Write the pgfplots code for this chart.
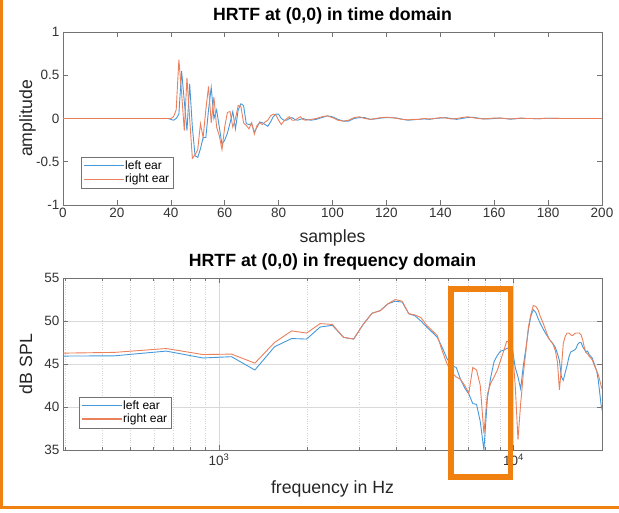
\documentclass[border=0pt]{standalone}
\usepackage{pgfplots}
\pgfplotsset{compat=1.18}
\usepackage{pgfplotstable}
\usepackage{fontspec}
\setmainfont{Liberation Sans}
\definecolor{mblue}{rgb}{0.27,0.60,0.86}
\definecolor{morange}{rgb}{0.92,0.50,0.36}
\definecolor{frameor}{rgb}{0.94,0.50,0.06}
\definecolor{axgray}{rgb}{0.45,0.45,0.45}

\pgfplotstableread{
f L R
220.5 45.9 46.2
441 45.95 46.35
661.5 46.5 46.8
882 45.7 46.1
1102.5 45.85 46.15
1323 44.3 45.1
1543.5 47.0 47.5
1764 47.96 48.85
1984.5 47.9 48.6
2205 49.3 49.7
2425.5 49.5 49.6
2646 48.1 48.1
2866.5 47.9 47.9
3087 49.6 49.6
3307.5 50.9 50.9
3528 51.2 51.2
3748.5 52.0 52.0
3969 52.3 52.5
4189.5 52.2 52.3
4410 50.85 50.85
4630.5 50.6 50.7
4851 50.0 50.4
5071.5 49.3 49.5
5292 48.7 48.9
5512.5 48.1 48.3
5733 46.9 46.5
5953.5 45.6 45.0
6174 44.8 44.0
6394.5 44.6 43.5
6615 43.2 43.2
6835.5 42.2 42.5
7056 41.5 41.6
7276.5 40.4 44.6
7497 40.3 44.3
7717.5 38.3 42.5
7938 35.0 36.9
8158.5 41.0 41.5
8379 43.5 42.8
8599.5 45.3 43.5
8820 46.0 44.3
9040.5 46.5 45.4
9261 46.6 46.5
9481.5 46.8 47.6
9702 46.9 47.7
9922.5 46.7 46.8
10143 44.6 42.5
10363.5 43.5 36.2
10584 42.1 40.4
10804.5 44.8 43.8
11025 46.8 46.5
11245.5 49.0 49.3
11466 50.6 50.8
11686.5 51.3 51.8
11907 51.0 51.7
12127.5 50.3 51.3
12348 49.7 50.5
12568.5 49.2 49.9
12789 48.7 49.2
13009.5 48.3 48.5
13230 47.9 47.9
13450.5 47.6 47.6
13671 47.3 47.2
13891.5 46.9 46.5
14112 46.2 45.2
14332.5 45.4 42.0
14553 43.5 44.5
14773.5 43.1 47.4
14994 44.0 48.2
15214.5 44.8 48.6
15435 45.8 48.6
15655.5 46.4 48.4
15876 46.5 48.3
16096.5 46.6 48.5
16317 46.8 48.6
16537.5 47.3 48.6
16758 47.5 48.6
16978.5 47.5 48.4
17199 47.0 47.8
17419.5 46.7 46.9
17640 46.4 46.3
17860.5 46.5 46.2
18081 46.1 45.9
18301.5 45.9 45.7
18522 45.7 45.5
18742.5 45.2 45.0
18963 44.7 44.6
19183.5 44.2 44.2
19404 43.2 43.8
19624.5 41.8 43.2
19845 40.3 42.5
20065.5 39.5 42.0
}\freqtab

\pgfplotstableread{
n L R
0 0 0
39 0 0
40 -0.01 0
41 -0.02 0.02
42 0.0 0.1
43 0.05 0.68
44 0.55 0.3
45 0.2 -0.14
46 -0.14 0.47
47 0.4 0.0
48 -0.1 -0.46
49 -0.43 -0.42
50 -0.45 -0.36
51 -0.35 -0.06
52 -0.22 -0.22
53 -0.22 0.1
54 0.1 0.37
55 0.36 -0.05
56 0.0 0.25
57 0.1 -0.1
58 -0.1 -0.2
59 -0.3 -0.36
60 -0.25 -0.1
61 -0.17 0.07
62 -0.05 0.08
63 0.08 -0.1
64 -0.12 0.0
65 0.1 0.15
66 0.17 0.14
67 0.15 -0.05
68 -0.06 -0.08
69 -0.07 -0.12
70 -0.06 -0.05
71 -0.16 -0.18
72 -0.1 -0.08
73 -0.04 -0.05
74 -0.05 -0.07
75 -0.07 -0.04
76 -0.09 -0.02
77 -0.04 0.03
78 0.02 0.05
79 0.05 0.04
80 0.05 -0.02
81 0.0 -0.07
82 -0.02 -0.03
83 -0.02 0.0
84 0.0 0.02
85 0.01 -0.02
86 -0.01 -0.02
87 -0.02 0.0
88 -0.01 0.02
89 0.0 -0.01
90 -0.01 -0.02
92 -0.02 -0.01
94 -0.01 0.0
96 0.01 0.02
98 0.03 0.03
100 0.02 0.01
102 -0.01 -0.02
104 -0.03 -0.03
106 -0.03 -0.02
108 0.0 0.01
110 0.01 0.02
112 0.01 0.0
114 -0.01 -0.01
116 -0.005 0.0
118 0.005 0.01
120 0.01 0.015
122 0.01 0.01
124 0.005 0.0
126 -0.01 -0.01
128 -0.02 -0.015
130 -0.015 -0.01
132 -0.01 -0.01
134 -0.005 0.0
136 -0.01 -0.005
138 0.0 0.0
140 0.005 0.01
142 0.01 0.005
144 0.0 -0.005
146 -0.01 0.0
148 0.0 0.01
150 0.01 0.02
152 0.015 0.01
154 0.005 0.0
156 -0.005 -0.005
158 -0.005 0.0
160 0.0 0.005
162 0.005 0.005
164 0.0 0.0
166 -0.008 -0.005
168 -0.003 0.0
170 0.003 0.005
172 0.0 0.0
174 0.0 0.0
176 -0.003 -0.003
178 0.0 0.0
180 0.003 0.003
185 0.0 0.0
190 0.0 0.0
195 0.0 0.0
200 0.0 0.0
}\timetab

\pgfplotsset{
  mstyle/.style={
    scale only axis,
    width=539bp,
    axis line style={axgray, line width=0.6bp},
    tick style={axgray, line width=0.6bp},
    tick align=inside,
    major tick length=5bp,
    minor tick length=3bp,
    /pgf/number format/assume math mode=true,
    tick label style={font=\fontsize{13.5bp}{15bp}\selectfont, text=black!80},
    label style={font=\fontsize{17.7bp}{20bp}\selectfont, text=black!85},
    title style={font=\bfseries\fontsize{17.7bp}{20bp}\selectfont, at={(axis description cs:0.5,1)}, anchor=base, yshift=6bp},
    xlabel style={at={(axis description cs:0.5,0)}, anchor=base},
    ylabel style={at={(axis description cs:-0.0575,0.5)}, anchor=base, rotate=0},
    legend cell align=left,
    legend style={draw=axgray, font=\fontsize{12bp}{13bp}\selectfont,
      inner xsep=2.5bp, inner ysep=2bp, row sep=0bp,
      nodes={inner xsep=1.5bp, inner ysep=1.6bp}},
    bluelegend/.style={legend image code/.code={\fill[fill=mblue, draw=none] (0bp,-0.6bp) rectangle (40bp,0.6bp);}},
    orangelegend/.style={legend image code/.code={\fill[fill=morange, draw=none] (0bp,-0.6bp) rectangle (40bp,0.6bp);}},
  }
}

\begin{document}
\begin{tikzpicture}
\useasboundingbox (0bp,0bp) rectangle (619bp,513bp);
\begin{axis}[mstyle,
  at={(63bp,308bp)}, anchor=south west,
  height=173bp,
  xmin=0, xmax=200, ymin=-1, ymax=1,
  xtick={0,20,...,200}, ytick={-1,-0.5,0,0.5,1},
  title={HRTF at (0,0) in time domain},
  xlabel={samples}, ylabel={amplitude},
  xlabel style={yshift=-38bp},
  legend style={at={(axis description cs:0.0334,0.098)}, anchor=south west},
]
\addplot[mblue, line width=0.9bp, forget plot] table[x=n, y=L] {\timetab};
\addplot[morange, line width=0.9bp, forget plot] table[x=n, y=R] {\timetab};
\addlegendimage{bluelegend}
\addlegendentry{left ear}
\addlegendimage{orangelegend}
\addlegendentry{right ear}
\end{axis}

\begin{axis}[mstyle,
  at={(63bp,63bp)}, anchor=south west,
  height=172bp,
  xmode=log,
  xmin=295, xmax=20000, ymin=35, ymax=55,
  xtick={1000,10000}, xticklabels={10\textsuperscript{3},10\textsuperscript{4}},
  minor xtick={300,400,500,600,700,800,900,2000,3000,4000,5000,6000,7000,8000,9000,20000},
  ytick={35,40,...,55},
  grid=both,
  major grid style={gray!30, line width=0.5bp},
  minor grid style={gray!35, dotted, line width=0.5bp},
  title={HRTF at (0,0) in frequency domain},
  xlabel={frequency in Hz}, ylabel={dB SPL},
  xlabel style={yshift=-43bp},
  legend style={at={(axis description cs:0.0297,0.128)}, anchor=south west},
]
\addplot[mblue, line width=0.9bp, forget plot] table[x=f, y=L] {\freqtab};
\addplot[morange, line width=0.9bp, forget plot] table[x=f, y=R] {\freqtab};
\addlegendimage{bluelegend}
\addlegendentry{left ear}
\addlegendimage{orangelegend}
\addlegendentry{right ear}
\end{axis}

\draw[frameor, line width=3bp] (1.5bp,513bp) -- (1.5bp,5bp) -- (619bp,5bp);
\draw[frameor, line width=5.5bp] (451.2bp,224bp) rectangle (510.5bp,36bp);
\end{tikzpicture}
\end{document}
